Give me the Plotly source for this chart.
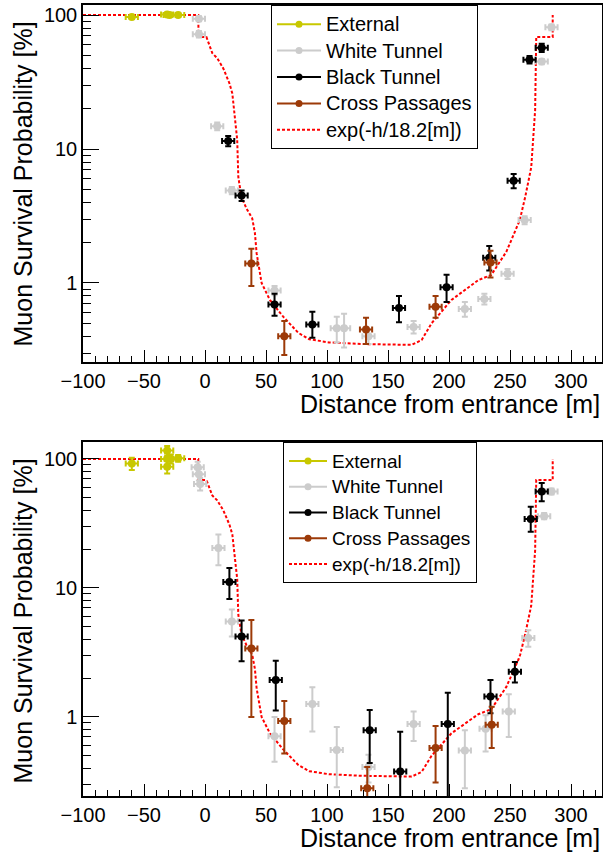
import plotly.graph_objects as go

# ---------------- data ----------------
# Top panel
ext_x_top = [-60, -31, -29, -22]
ext_y_top = [97, 101, 100, 100]
ext_eu_top = [3, 3, 3, 3]
ext_ed_top = [3, 3, 3, 3]

white_x_top = [-5, -5, 10, 22, 57, 108, 114, 134, 171, 213, 229, 248, 262, 276, 284]
white_y_top = [94, 72, 14.8, 4.9, 0.88, 0.46, 0.46, 0.40, 0.47, 0.64, 0.76, 1.17, 2.95, 45, 81]
white_eu_top = [4, 4, 1, 0.3, 0.07, 0.1, 0.13, 0.05, 0.05, 0.08, 0.07, 0.1, 0.2, 2, 4]
white_ed_top = [4, 4, 1, 0.3, 0.07, 0.1, 0.13, 0.05, 0.05, 0.08, 0.07, 0.1, 0.2, 2, 4]

black_x_top = [19, 30, 57, 88, 159, 198, 233, 253, 266, 276]
black_y_top = [11.5, 4.5, 0.69, 0.49, 0.65, 0.93, 1.54, 5.8, 46.5, 57]
black_eu_top = [1, 0.4, 0.14, 0.12, 0.15, 0.22, 0.35, 0.7, 3, 4]
black_ed_top = [1, 0.4, 0.12, 0.1, 0.14, 0.21, 0.3, 0.7, 3, 4]

cross_x_top = [38, 65, 132, 189, 234]
cross_y_top = [1.4, 0.40, 0.45, 0.665, 1.42]
cross_eu_top = [0.4, 0.12, 0.1, 0.135, 0.32]
cross_ed_top = [0.45, 0.11, 0.1, 0.115, 0.32]

# Bottom panel
ext_x_bot = [-60, -31, -31, -31, -28, -22]
ext_y_bot = [92, 116, 100, 87, 100, 101]
ext_eu_bot = [10, 10, 10, 10, 8, 6]
ext_ed_bot = [10, 10, 10, 10, 8, 6]

white_x_bot = [-6, -5, -4, 11, 22, 57, 88, 108, 134, 171, 213, 230, 249, 265, 278, 284]
white_y_bot = [86, 76, 64, 20.4, 5.5, 0.71, 1.26, 0.555, 0.41, 0.88, 0.55, 0.81, 1.1, 4.1, 36, 56]
white_eu_bot = [9, 8, 7, 5.6, 1.3, 0.29, 0.44, 0.28, 0.1, 0.22, 0.24, 0.22, 0.4, 0.6, 2, 3]
white_ed_bot = [9, 8, 7, 5.4, 1.3, 0.26, 0.49, 0.27, 0.1, 0.23, 0.27, 0.27, 0.4, 0.6, 2, 3]

black_x_bot = [20, 30, 58, 135, 160, 199, 234, 254, 267, 276]
black_y_bot = [11.1, 4.2, 1.93, 0.79, 0.377, 0.88, 1.44, 2.24, 34.2, 55.8]
black_eu_bot = [3.2, 1.4, 0.8, 0.34, 0.39, 0.66, 0.49, 0.43, 8.3, 9.2]
black_ed_bot = [2.9, 1.5, 0.81, 0.35, 0.2, 0.7, 0.37, 0.39, 7, 8.8]

cross_x_bot = [38, 65, 133, 189, 235]
cross_y_bot = [3.4, 0.93, 0.28, 0.575, 0.87]
cross_eu_bot = [2.25, 0.4, 0.13, 0.275, 0.33]
cross_ed_bot = [2.4, 0.41, 0.1, 0.265, 0.295]

x_err = 5  # horizontal error half-width [m]

# exp(-h/18.2) model curve (same in both panels)
model_x = [-100, -5.5, -5.3, 1.2, 6, 10, 15, 20, 22.4, 25.4, 26.4, 27.3, 29.8, 34, 38.7,
           40.9, 42.3, 46.4, 53.2, 64.1, 76.4, 85.5, 101.6, 128.6, 169.4, 177.6, 185.7,
           202, 224, 234.7, 247, 257, 258.4, 262.5, 267.4, 270.6, 271, 271.5, 285, 285]
model_y = [100, 100, 68.5, 68.5, 52, 47.7, 40, 31, 26, 13.1, 11.7, 6.2, 4.4, 3.6, 3.04,
           2.36, 1.67, 1.0, 0.747, 0.56, 0.425, 0.38, 0.36, 0.35, 0.345, 0.375, 0.5,
           0.747, 1.05, 1.15, 1.71, 2.8, 3.05, 4.4, 7.3, 19.5, 54.8, 68.5, 68.5, 100]

series_names = ["External", "White Tunnel", "Black Tunnel", "Cross Passages"]
model_name = "exp(-h/18.2[m])"
x_ticks = [-100, -50, 0, 50, 100, 150, 200, 250, 300]
y_ticks = [1, 10, 100]
y_tick_text = ["1", "10", "100"]
y_minor = [0.3, 0.4, 0.5, 0.6, 0.7, 0.8, 0.9, 2, 3, 4, 5, 6, 7, 8, 9,
           20, 30, 40, 50, 60, 70, 80, 90]

colors = ["#c8c800", "#cccccc", "#000000", "#9c3a08"]
FONT = "Liberation Sans, Arial, sans-serif"

W, H = 603, 853
# plot-area pixel boxes
left_px, right_px = 83, 601.5
top_box = (5, 362)
bot_box = (442, 796)

def ydom(box):
    return [1 - box[1] / H, 1 - box[0] / H]

fig = go.Figure()

panels = [
    ("x", "y", "legend", 20,
     [(ext_x_top, ext_y_top, ext_eu_top, ext_ed_top),
      (white_x_top, white_y_top, white_eu_top, white_ed_top),
      (black_x_top, black_y_top, black_eu_top, black_ed_top),
      (cross_x_top, cross_y_top, cross_eu_top, cross_ed_top)]),
    ("x2", "y2", "legend2", 19,
     [(ext_x_bot, ext_y_bot, ext_eu_bot, ext_ed_bot),
      (white_x_bot, white_y_bot, white_eu_bot, white_ed_bot),
      (black_x_bot, black_y_bot, black_eu_bot, black_ed_bot),
      (cross_x_bot, cross_y_bot, cross_eu_bot, cross_ed_bot)]),
]

def leg_label(txt, size):
    return '<span style="font-size:%dpx">%s</span>' % (size, txt)

for xa, ya, leg, lsize, sets in panels:
    # model curve first (drawn below points)
    fig.add_trace(go.Scatter(
        x=model_x, y=model_y, mode="lines", xaxis=xa, yaxis=ya,
        line=dict(color="#ff0000", width=2, dash="3px,2px"),
        showlegend=False, hoverinfo="skip"))
    for (xs, ys, eu, ed), name, col in zip(sets, series_names, colors):
        fig.add_trace(go.Scatter(
            x=xs, y=ys, mode="markers", xaxis=xa, yaxis=ya,
            marker=dict(color=col, size=8, symbol="circle", line=dict(width=0)),
            error_y=dict(type="data", array=eu, arrayminus=ed, symmetric=False,
                         color=col, thickness=2, width=3),
            error_x=dict(type="constant", value=x_err, color=col, thickness=2, width=3),
            showlegend=False, name=name))
    # legend entries (line + marker, ROOT "lep" style)
    for name, col in zip(series_names, colors):
        fig.add_trace(go.Scatter(
            x=[None], y=[None], mode="lines+markers", xaxis=xa, yaxis=ya,
            line=dict(color=col, width=2), marker=dict(color=col, size=7),
            name=leg_label(name, lsize), legend=leg, showlegend=True))
    fig.add_trace(go.Scatter(
        x=[None], y=[None], mode="lines", xaxis=xa, yaxis=ya,
        line=dict(color="#ff0000", width=2, dash="3px,2px"),
        name=leg_label(model_name, lsize), legend=leg, showlegend=True))

xaxis_common = dict(
    range=[-100, 325], domain=[left_px / W, right_px / W], automargin=False,
    tickmode="array", tickvals=x_ticks, ticks="inside", ticklen=12, tickwidth=1,
    tickcolor="black", showgrid=False, zeroline=False,
    showline=True, linecolor="black", linewidth=1.5, mirror=True,
    tickfont=dict(family=FONT, size=20, color="black"),
    minor=dict(dtick=10, tick0=0, ticks="inside", ticklen=6, tickcolor="black", showgrid=False),
)
yaxis_common = dict(
    type="log", tickmode="array", tickvals=y_ticks, ticktext=y_tick_text, automargin=False,
    ticks="inside", ticklen=16, tickwidth=1, tickcolor="black",
    showgrid=False, zeroline=False,
    showline=True, linecolor="black", linewidth=1.5, mirror=True,
    tickfont=dict(family=FONT, size=20, color="black"),
    minor=dict(tickmode="array", tickvals=y_minor, ticks="inside", ticklen=8,
               tickcolor="black", showgrid=False),
)

fig.update_layout(
    width=W, height=H, margin=dict(l=0, r=0, t=0, b=0, autoexpand=False),
    paper_bgcolor="white", plot_bgcolor="white",
    font=dict(family=FONT, color="black"),
    xaxis=dict(xaxis_common, anchor="y"),
    yaxis=dict(yaxis_common, domain=ydom(top_box), anchor="x",
               range=[-0.590, 2.0755]),
    xaxis2=dict(xaxis_common, anchor="y2"),
    yaxis2=dict(yaxis_common, domain=ydom(bot_box), anchor="x2",
                range=[-0.6126, 2.131]),
    legend=dict(x=271 / W, y=1 - 5 / H, xanchor="left", yanchor="top",
                bordercolor="black", borderwidth=1, bgcolor="white",
                font=dict(family=FONT, size=18, color="black"),
                tracegroupgap=0, itemwidth=44),
    legend2=dict(x=283 / W, y=1 - 442 / H, xanchor="left", yanchor="top",
                 bordercolor="black", borderwidth=1, bgcolor="white",
                 font=dict(family=FONT, size=17.5, color="black"),
                 tracegroupgap=0, itemwidth=38),
    showlegend=True,
)

annots = [
    dict(text="Muon Survival Probability [%]", x=22 / W, y=1 - 20 / H,
         xanchor="center", yanchor="top", textangle=-90),
    dict(text="Distance from entrance [m]", x=602 / W, y=1 - 404 / H,
         xanchor="right", yanchor="middle"),
    dict(text="Muon Survival Probability [%]", x=22 / W, y=1 - 457 / H,
         xanchor="center", yanchor="top", textangle=-90),
    dict(text="Distance from entrance [m]", x=602 / W, y=1 - 838 / H,
         xanchor="right", yanchor="middle"),
]
for a in annots:
    fig.add_annotation(xref="paper", yref="paper", showarrow=False,
                       font=dict(family=FONT, size=25, color="black"), **a)

fig.write_html("out.html", config={"displayModeBar": False},
               post_script="document.body.style.margin='0px';"
                           "document.body.style.overflow='hidden';")
